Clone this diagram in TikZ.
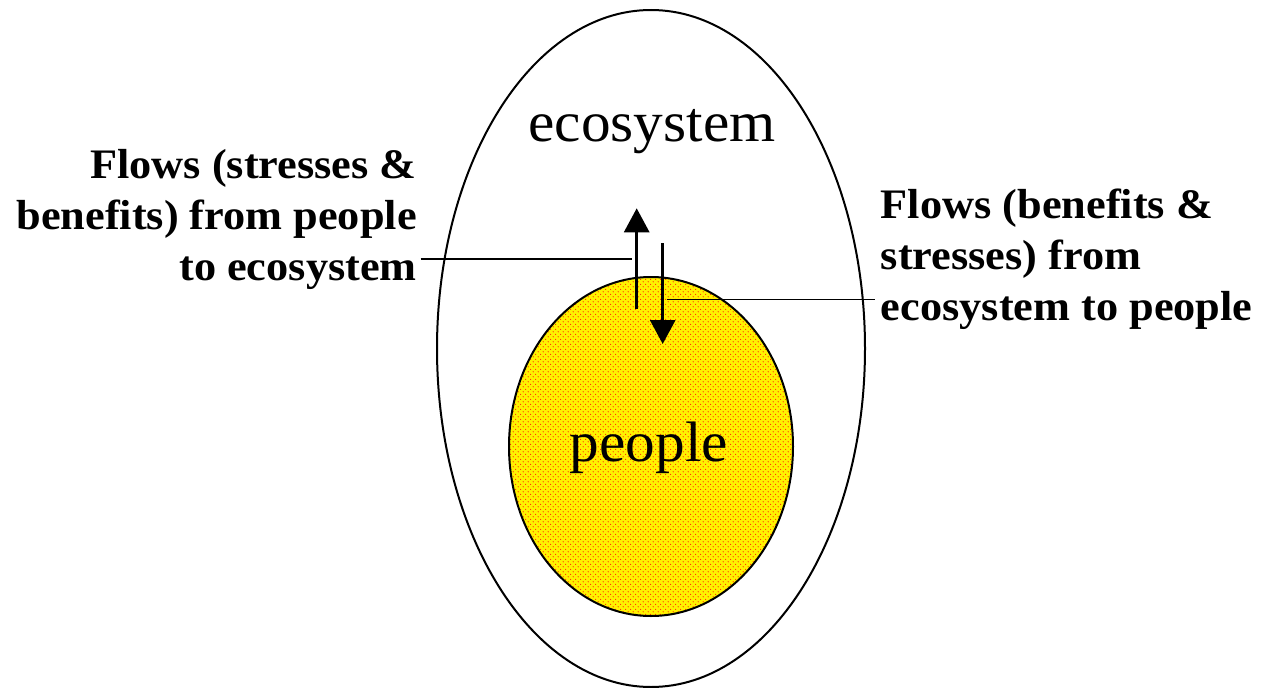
\documentclass[tikz,border=0pt]{standalone}
\usepackage{fontspec}
\setmainfont{Liberation Serif}
\usetikzlibrary{shapes.geometric,arrows.meta,patterns.meta}
\tikzdeclarepattern{
  name=ydots, type=uncolored,
  bottom left={(0pt,0pt)}, top right={(5.4pt,5.4pt)}, tile size={(5.4pt,5.4pt)},
  code={\pgfpathcircle{\pgfpoint{1.35pt}{1.35pt}}{0.6pt}\pgfpathcircle{\pgfpoint{4.05pt}{4.05pt}}{0.6pt}\pgfusepath{fill}}
}
\begin{document}
\begin{tikzpicture}[x=1pt,y=1pt,
  region/.style={ellipse, draw=black, line width=2pt, inner sep=0pt},
  bigword/.style={font=\fontsize{57}{66}\selectfont, xscale=1.04, inner sep=0pt},
  flowlabel/.style={font=\bfseries\fontsize{42}{51}\selectfont, xscale=1.055, inner sep=0pt},
  flowarrow/.style={line width=3pt, -{Triangle[length=24pt,width=25pt]}},
  leader/.style={line width=1.2pt}]
\fill[white] (0,0) rectangle (1262,-688);
\useasboundingbox (0,0) rectangle (1262,-688);
\node[region, minimum width=428pt, minimum height=677pt] (eco) at (651,-348.5) {};
\node[region, minimum width=284pt, minimum height=339pt,
      preaction={fill=yellow}, pattern={ydots}, pattern color=red] (ppl) at (651,-446.5) {};
\node[bigword, anchor=base] (ecoword) at (652,-141) {ecosystem};
\node[bigword, anchor=base] (pplword) at (649,-461) {people};
\node[flowlabel, align=right, anchor=base east] (leftlab) at (417,-280)
  {Flows (stresses \&\\benefits) from people\\to ecosystem};
\node[flowlabel, align=left, anchor=base west] (rightlab) at (880.7,-320)
  {Flows (benefits \&\\stresses) from\\ecosystem to people};
\coordinate (upfoot) at (636.7,-309);
\coordinate (uptip) at (636.7,-208.3);
\coordinate (downfoot) at (662.7,-243.3);
\coordinate (downtip) at (662.7,-344);
\coordinate (leftjoin) at (631.7,-259);
\coordinate (rightjoin) at (666.7,-299.5);
\draw[flowarrow] (upfoot) -- (uptip);
\draw[flowarrow] (downfoot) -- (downtip);
\draw[leader] ([xshift=3.7pt]leftlab.east |- leftjoin) -- (leftjoin);
\draw[leader] (rightjoin) -- ([xshift=-6pt]rightlab.west |- rightjoin);
\end{tikzpicture}
\end{document}
